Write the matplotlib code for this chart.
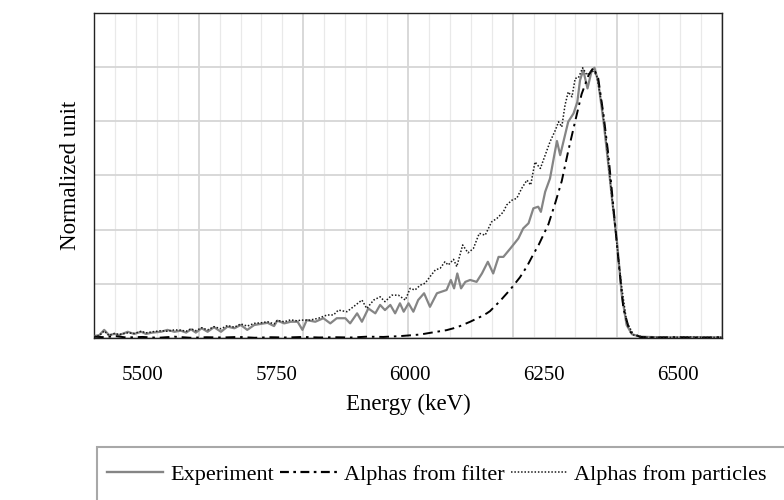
import numpy as np
import matplotlib
matplotlib.use('Agg')
from matplotlib import pyplot as plt
from matplotlib.lines import Line2D
from matplotlib.patches import Rectangle

plt.rcParams['font.family'] = ['Liberation Serif', 'DejaVu Serif']

# energy (keV) / normalized counts
exp_e = [5410, 5420, 5429, 5438, 5448, 5457, 5473, 5485, 5498, 5507, 5519, 5535, 5547, 5560,
         5572, 5582, 5591, 5600, 5611, 5622, 5634, 5647, 5659, 5672, 5684, 5696, 5709, 5721,
         5734, 5746, 5752, 5765, 5777, 5790, 5799, 5807, 5823, 5838, 5851, 5863, 5879, 5888,
         5901, 5910, 5922, 5935, 5944, 5953, 5963, 5972, 5981, 5988, 5997, 6006, 6015, 6026,
         6037, 6050, 6059, 6068, 6076, 6082, 6088, 6095, 6103, 6112, 6124, 6134, 6145, 6155,
         6165, 6174, 6187, 6202, 6211, 6221, 6230, 6239, 6244, 6252, 6261, 6269, 6274, 6280,
         6286, 6295, 6305, 6312, 6317, 6323, 6331, 6339, 6344, 6351, 6361, 6370, 6376, 6386,
         6395, 6404, 6414, 6429, 6460, 6500, 6540, 6582]
exp_v = [0.008, 0.012, 0.031, 0.012, 0.016, 0.012, 0.024, 0.016, 0.024, 0.016, 0.021, 0.024,
         0.031, 0.024, 0.028, 0.021, 0.033, 0.021, 0.037, 0.024, 0.041, 0.024, 0.043, 0.037,
         0.049, 0.031, 0.049, 0.053, 0.057, 0.045, 0.065, 0.055, 0.061, 0.061, 0.031, 0.067,
         0.061, 0.074, 0.055, 0.074, 0.074, 0.055, 0.092, 0.061, 0.110, 0.092, 0.123, 0.104,
         0.123, 0.092, 0.129, 0.098, 0.129, 0.098, 0.141, 0.166, 0.116, 0.166, 0.172, 0.178,
         0.215, 0.184, 0.239, 0.184, 0.208, 0.215, 0.208, 0.239, 0.282, 0.239, 0.300, 0.300,
         0.331, 0.368, 0.405, 0.424, 0.479, 0.485, 0.466, 0.540, 0.589, 0.675, 0.727, 0.675,
         0.724, 0.798, 0.829, 0.871, 0.951, 0.988, 0.921, 0.988, 0.997, 0.945, 0.798, 0.638,
         0.528, 0.356, 0.159, 0.049, 0.015, 0.006, 0.004, 0.003, 0.004, 0.003]

filt_e = [5410, 5430, 5450, 5470, 5500, 5530, 5560, 5590, 5620, 5650, 5680, 5710, 5740, 5770,
          5800, 5830, 5860, 5890, 5920, 5950, 5981, 6019, 6043, 6068, 6081, 6093, 6112, 6131,
          6143, 6149, 6168, 6187, 6205, 6218, 6230, 6240, 6246, 6258, 6271, 6283, 6295,
          6308, 6320, 6333, 6342, 6351, 6361, 6370, 6379, 6389, 6398, 6410, 6429, 6460, 6500,
          6540, 6582]
filt_v = [0.006, 0.004, 0.008, 0.003, 0.005, 0.002, 0.006, 0.002, 0.004, 0.003, 0.005, 0.002,
          0.004, 0.003, 0.005, 0.003, 0.004, 0.003, 0.006, 0.005, 0.008, 0.014, 0.022, 0.030,
          0.037, 0.045, 0.061, 0.079, 0.092, 0.100, 0.138, 0.180, 0.225, 0.265, 0.310,
          0.345, 0.370, 0.420, 0.500, 0.580, 0.690, 0.800, 0.900, 0.970, 0.997, 0.958, 0.822,
          0.675, 0.491, 0.282, 0.110, 0.024, 0.005, 0.003, 0.004, 0.002, 0.004]

part_e = [5410, 5420, 5429, 5438, 5448, 5457, 5473, 5485, 5498, 5507, 5519, 5535, 5547, 5560,
          5572, 5582, 5591, 5600, 5611, 5622, 5634, 5647, 5659, 5672, 5684, 5696, 5709, 5721,
          5734, 5746, 5752, 5765, 5777, 5790, 5795, 5813, 5829, 5845, 5857, 5866, 5882, 5894,
          5910, 5919, 5932, 5944, 5953, 5966, 5978, 5991, 6000, 6009, 6019, 6028, 6037, 6047,
          6056, 6065, 6071, 6081, 6087, 6098, 6108, 6118, 6129, 6140, 6152, 6162, 6174, 6180,
          6190, 6199, 6208, 6218, 6225, 6233, 6243, 6252, 6261, 6271, 6277, 6283, 6289, 6295,
          6302, 6308, 6314, 6322, 6330, 6339, 6348, 6358, 6367, 6376, 6386, 6395, 6404, 6417,
          6440, 6480, 6520, 6560, 6582]
part_v = [0.006, 0.010, 0.027, 0.010, 0.018, 0.014, 0.020, 0.018, 0.026, 0.020, 0.024, 0.028,
          0.026, 0.031, 0.030, 0.026, 0.035, 0.028, 0.039, 0.031, 0.043, 0.035, 0.047, 0.041,
          0.053, 0.045, 0.055, 0.057, 0.061, 0.053, 0.066, 0.061, 0.068, 0.064, 0.067, 0.067,
          0.074, 0.086, 0.086, 0.104, 0.098, 0.116, 0.141, 0.110, 0.141, 0.153, 0.135, 0.159,
          0.159, 0.141, 0.184, 0.178, 0.196, 0.203, 0.227, 0.252, 0.258, 0.282, 0.270, 0.291,
          0.264, 0.344, 0.315, 0.331, 0.387, 0.380, 0.429, 0.442, 0.466, 0.491, 0.509, 0.516,
          0.552, 0.583, 0.565, 0.650, 0.626, 0.675, 0.724, 0.767, 0.798, 0.779, 0.859, 0.908,
          0.890, 0.958, 0.960, 0.997, 0.970, 0.988, 0.970, 0.859, 0.712, 0.528, 0.344, 0.186,
          0.061, 0.012, 0.004, 0.003, 0.005, 0.003, 0.004]

xticks = [5500, 5750, 6000, 6250, 6500]
xlim = (5410, 6582)
ylim = (0, 1.2)

fig = plt.figure(figsize=(7.84, 5), dpi=100)
ax = fig.add_axes([94 / 784, 1 - 338.3 / 500, 628 / 784, 325.6 / 500])

# vertical grid: 6 major / 30 minor divisions across the axis
for i, xg in enumerate(np.linspace(xlim[0], xlim[1], 31)):
    if i % 5 == 0:
        ax.axvline(xg, color='#d6d6d6', lw=1.3, zorder=0)
    else:
        ax.axvline(xg, color='#e9e9e9', lw=0.9, zorder=0)
ax.set_yticks(np.arange(0, 1.21, 0.2))
ax.yaxis.grid(True, color='#d6d6d6', lw=1.3, zorder=0)
ax.set_axisbelow(True)

ax.plot(exp_e, exp_v, color='#858585', lw=1.6, label='Experiment', zorder=3)
ax.plot(filt_e, filt_v, color='black', lw=1.4, linestyle=(0, (5, 2.5, 1.3, 2.5)),
        label='Alphas from filter', zorder=4)
ax.plot(part_e, part_v, color='#1a1a1a', lw=1.1, linestyle=(0, (1, 1.2)),
        label='Alphas from particles', zorder=5)

ax.set_xlim(*xlim)
ax.set_ylim(*ylim)
ax.set_xticks(xticks)
ax.set_xticklabels([str(t) for t in xticks])
ax.tick_params(axis='x', length=0, pad=20, labelsize=15)
ax.tick_params(axis='y', length=0, labelleft=False)
for sp in ax.spines.values():
    sp.set_color('#222222')
    sp.set_linewidth(1.0)

ax.set_xlabel('Energy (keV)', fontsize=16.5, labelpad=6)
ax.set_ylabel('Normalized unit', fontsize=16.5, labelpad=9)

# legend frame runs past the bottom/right edge of the picture
fig.patches.append(Rectangle((97 / 784, -0.2), 1.2, 0.2 + (1 - 447 / 500), transform=fig.transFigure,
                             fill=False, edgecolor='#a8a8a8', lw=1.5))
handles = [Line2D([], [], color='#858585', lw=1.7),
           Line2D([], [], color='black', lw=1.6, linestyle=(0, (4, 2, 1.2, 2))),
           Line2D([], [], color='#1a1a1a', lw=1.1, linestyle=(0, (1, 1.2)))]
fig.legend(handles, ['Experiment', 'Alphas from filter', 'Alphas from particles'],
           loc='upper left', bbox_to_anchor=(100 / 784, 1 - 458 / 500), ncol=3,
           frameon=False, fontsize=16, handlelength=2.55, handletextpad=0.3,
           columnspacing=0.3, borderaxespad=0, borderpad=0.3)

fig.savefig('out.png', dpi=100)
